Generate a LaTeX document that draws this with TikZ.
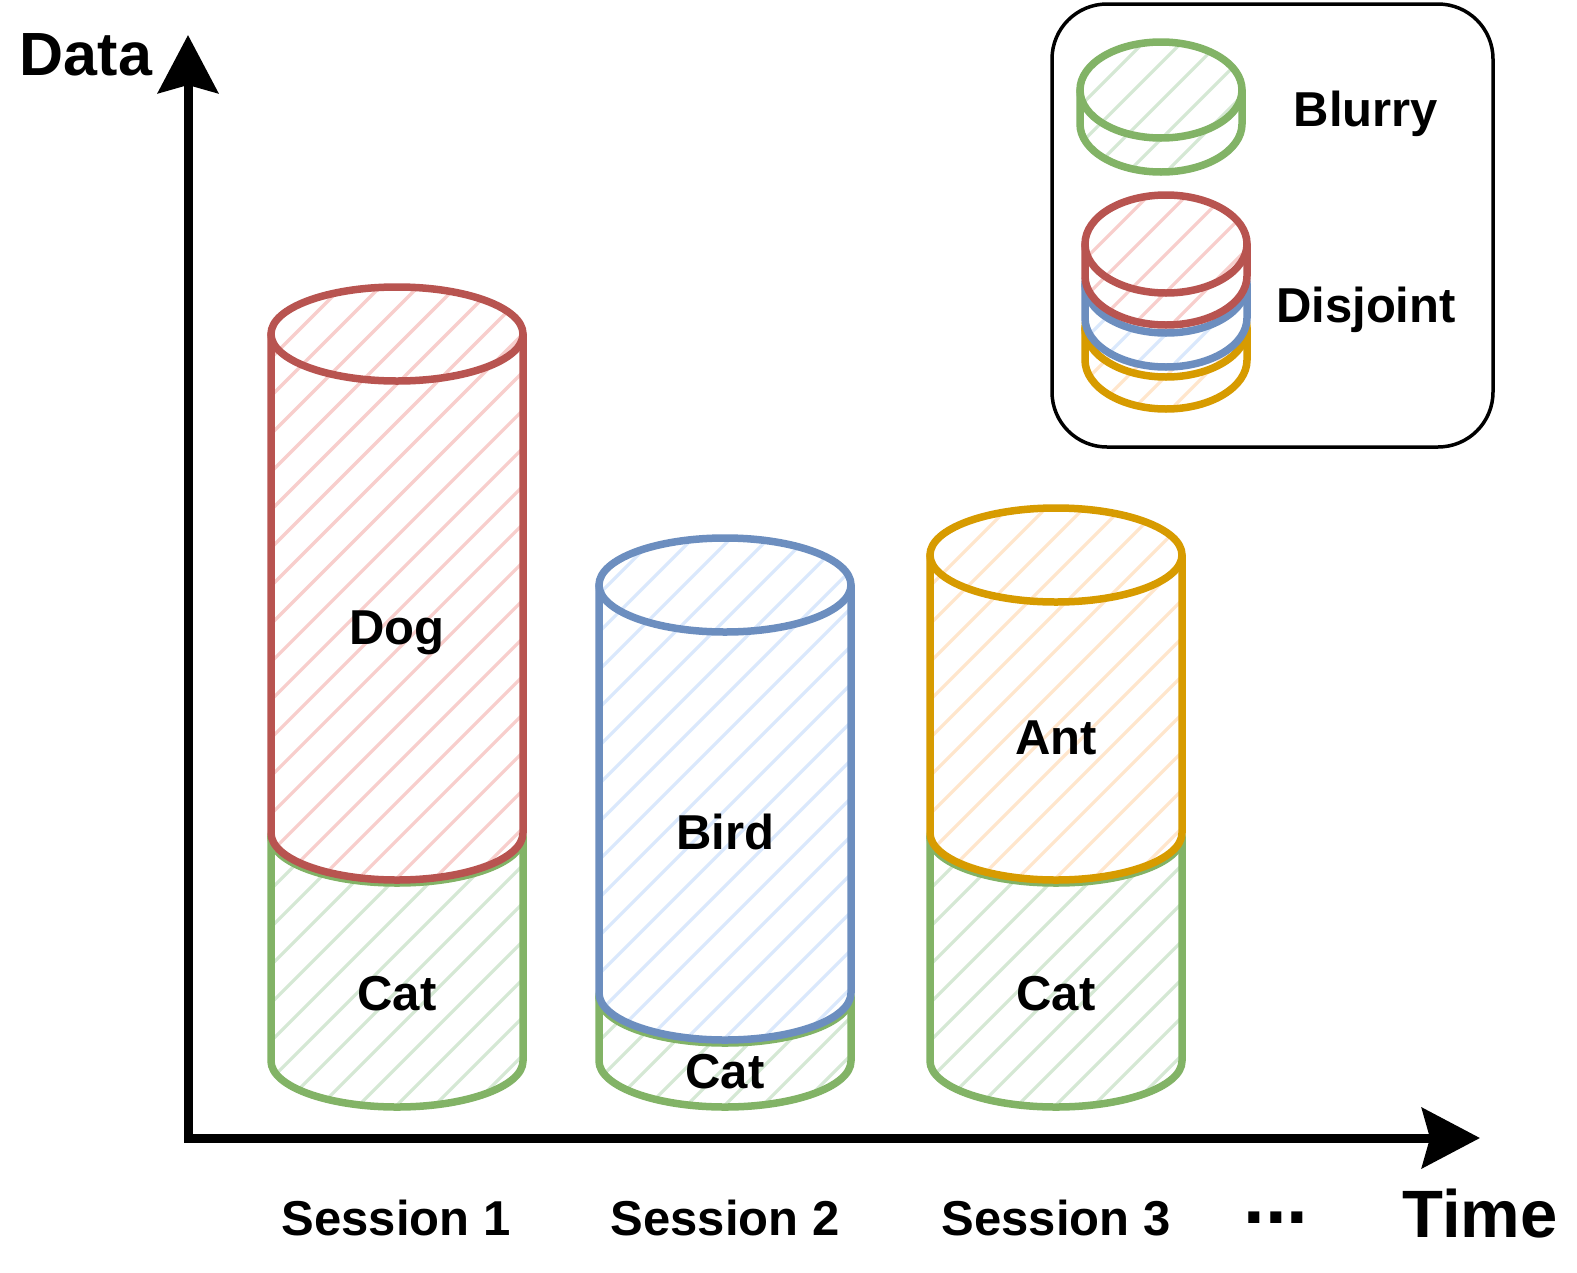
\documentclass[tikz,border=0pt]{standalone}
\usepackage{fontspec}
\setmainfont{Liberation Sans}
\usetikzlibrary{arrows.meta}
\definecolor{gstroke}{HTML}{82B366}\definecolor{gfill}{HTML}{D5E8D4}
\definecolor{rstroke}{HTML}{B85450}\definecolor{rfill}{HTML}{F8CECC}
\definecolor{bstroke}{HTML}{6C8EBF}\definecolor{bfill}{HTML}{DAE8FC}
\definecolor{ostroke}{HTML}{D79B00}\definecolor{ofill}{HTML}{FFE6CC}
\tikzset{
  cylline/.style={draw=#1, line width=7.5pt, line join=round, line cap=round},
  hatchline/.style={draw=#1, line width=3.2pt, line cap=round},
  lab/.style={font=\fontsize{49}{58}\selectfont\bfseries, anchor=base, inner sep=0pt},
  axisline/.style={line width=9pt, -{Stealth[length=58pt, width=60pt, inset=8pt]}},
}
\newcommand\mycyl[7]{%
  \path[fill=white] ({#1-#2},#3) -- ({#1-#2},#4) arc[start angle=180,end angle=0,x radius=#2,y radius=#5] -- ({#1+#2},#3) arc[start angle=0,end angle=-180,x radius=#2,y radius=#5] -- cycle;
  \begin{scope}
    \clip ({#1-#2},#3) -- ({#1-#2},#4) arc[start angle=180,end angle=0,x radius=#2,y radius=#5] -- ({#1+#2},#3) arc[start angle=0,end angle=-180,x radius=#2,y radius=#5] -- cycle;
    \foreach \k in {-30,...,10} \draw[hatchline=#7] ({#1-#2+\k*38},{#4+#5+10}) -- ++(1100,-1100);
  \end{scope}
  \draw[cylline=#6] ({#1-#2},#3) -- ({#1-#2},#4) arc[start angle=180,end angle=0,x radius=#2,y radius=#5] -- ({#1+#2},#3) arc[start angle=0,end angle=-180,x radius=#2,y radius=#5] -- cycle;
  \draw[cylline=#6] ({#1-#2},#3) arc[start angle=180,end angle=0,x radius=#2,y radius=#5];
}
\begin{document}
\begin{tikzpicture}[x=1pt,y=-1pt]
\useasboundingbox[fill=white] (0,0) rectangle (1577,1272);

% axes
\coordinate (origin) at (188,1138);
\coordinate (ytip) at (188,35);
\coordinate (xtip) at (1480,1138);
\coordinate (ybase) at (188,1142);
\coordinate (xbase) at (184,1138);
\draw[axisline] (ybase) -- (ytip);
\draw[axisline] (xbase) -- (xtip);

% session 1
\mycyl{397}{126}{837}{1061}{46}{gstroke}{gfill}
\mycyl{397}{126}{334}{833}{47}{rstroke}{rfill}
% session 2
\mycyl{725}{126}{997}{1061}{46}{gstroke}{gfill}
\mycyl{725}{126}{585}{993}{47}{bstroke}{bfill}
% session 3
\mycyl{1056}{126}{837}{1061}{46}{gstroke}{gfill}
\mycyl{1056}{126}{555}{833}{47}{ostroke}{ofill}

\node[lab] (dog) at (397,644) {Dog};
\node[lab] (cat1) at (397,1010) {Cat};
\node[lab] (bird) at (725,849) {Bird};
\node[lab] (cat2) at (725,1088) {Cat};
\node[lab] (ant) at (1056,754) {Ant};
\node[lab] (cat3) at (1056,1010) {Cat};

\node[lab] (s1) at (396,1235) {Session 1};
\node[lab] (s2) at (725,1235) {Session 2};
\node[lab] (s3) at (1056,1235) {Session 3};
\node[lab, font=\fontsize{78}{88}\selectfont\bfseries] (dots) at (1276,1223) {...};
\node[lab, font=\fontsize{67}{76}\selectfont\bfseries] (time) at (1480,1237) {Time};
\node[lab, font=\fontsize{61}{70}\selectfont\bfseries] (data) at (86,75) {Data};

% legend
\node[draw=black, line width=3.5pt, rounded corners=55pt, minimum width=441pt, minimum height=443pt, inner sep=0pt] (legend) at (1272.5,225.5) {};
\mycyl{1161}{81}{90}{124}{48}{gstroke}{gfill}
\mycyl{1166}{81}{328}{360}{49}{ostroke}{ofill}
\mycyl{1166}{81}{284}{318}{49}{bstroke}{bfill}
\mycyl{1166}{81}{244}{276}{49}{rstroke}{rfill}
\node[lab] (blurry) at (1366,126) {Blurry};
\node[lab] (disjoint) at (1366,322) {Disjoint};
\end{tikzpicture}
\end{document}
